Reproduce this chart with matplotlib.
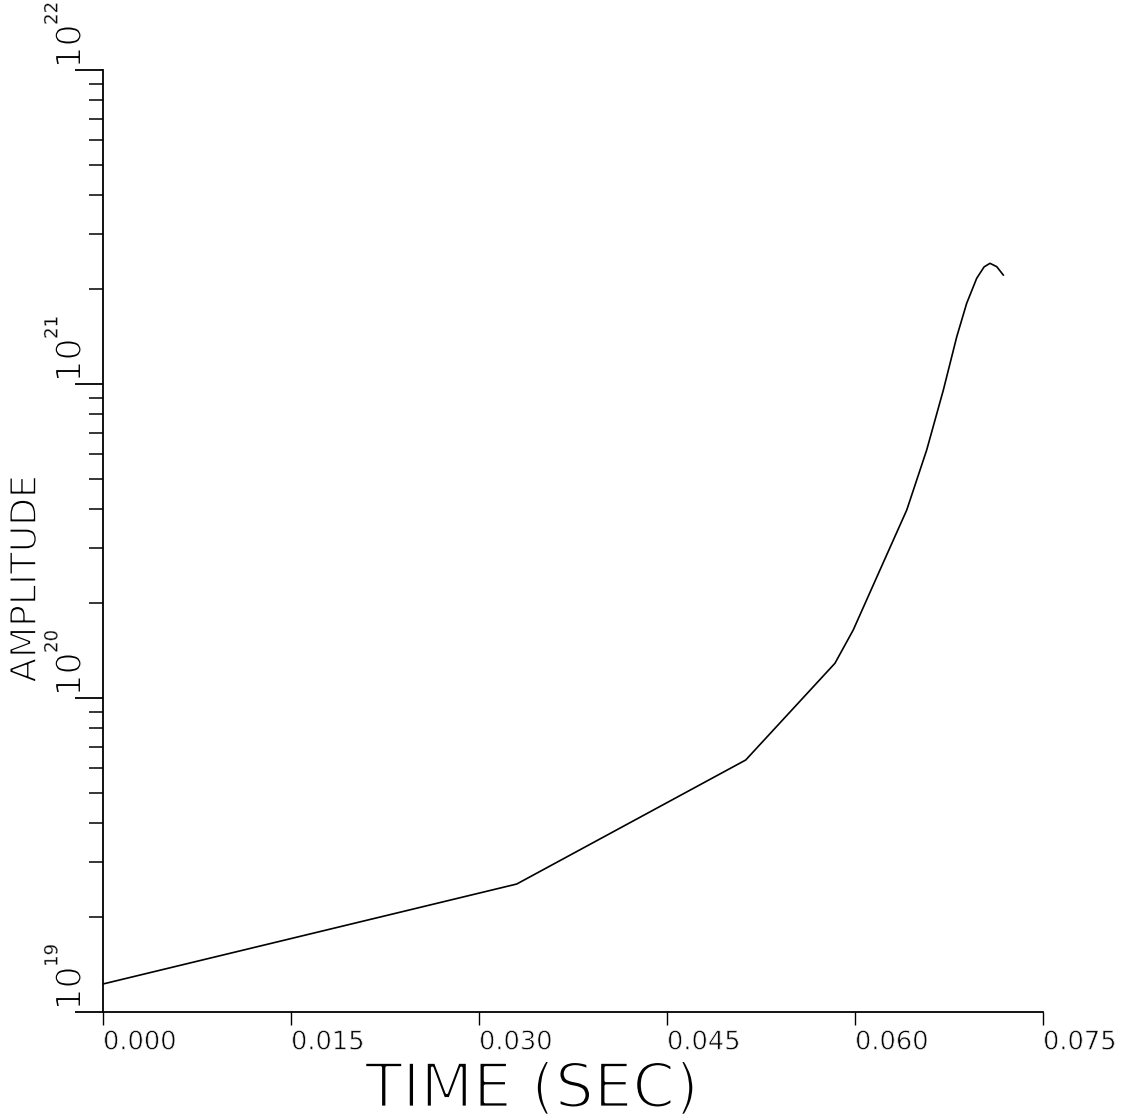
import matplotlib
matplotlib.use("Agg")
import matplotlib.pyplot as plt
import matplotlib.patheffects as pe

# curve (time in s, amplitude)
time_s = [0.0, 0.03301, 0.05128, 0.05840, 0.05986, 0.06199, 0.06413, 0.06572,
          0.06705, 0.06812, 0.06891, 0.06971, 0.07030, 0.07077, 0.07131, 0.07183]
amplitude = [1.228e19, 2.556e19, 6.346e19, 1.290e20, 1.647e20, 2.556e20, 3.970e20,
             6.164e20, 9.57e20, 1.415e21, 1.807e21, 2.171e21, 2.360e21, 2.423e21,
             2.364e21, 2.224e21]

x_ticks = [0.0, 0.015, 0.030, 0.045, 0.060, 0.075]
x_ticklabels = ["0.000", "0.015", "0.030", "0.045", "0.060", "0.075"]
decades = [19, 20, 21, 22]

FONT = "DejaVu Sans"


def thin(lw):
    # paint a white outline over the glyph to get a plotter-like thin stroke
    return [pe.Normal(), pe.Stroke(linewidth=lw, foreground="white")]


fig = plt.figure(figsize=(11.31, 11.19), dpi=100)
ax = fig.add_axes([103 / 1131, 1 - 1012 / 1119, 940 / 1131, (1012 - 70) / 1119])

ax.plot(time_s, amplitude, color="black", lw=1.2)
ax.set_yscale("log")
ax.set_xlim(0, 0.075)
ax.set_ylim(1e19, 1e22)

for s in ("top", "right"):
    ax.spines[s].set_visible(False)
for s in ("left", "bottom"):
    ax.spines[s].set_linewidth(1.3)

ax.set_xticks(x_ticks)
ax.set_xticklabels(x_ticklabels, ha="left", fontsize=18.5, family=FONT)
for lab in ax.get_xticklabels():
    lab.set_path_effects(thin(0.6))
ax.tick_params(axis="x", direction="out", length=9.5, width=1.0, pad=3)
ax.tick_params(axis="y", which="major", direction="out", length=20, width=1.3)
ax.tick_params(axis="y", which="minor", direction="out", length=10, width=1.1)
ax.yaxis.set_tick_params(which="both", labelleft=False)

# rotated decade labels: "10" plus a small exponent
for d in decades:
    ax.annotate("10", xy=(0, 10.0 ** d), xycoords=("axes fraction", "data"),
                xytext=(-11, 1), textcoords="offset points", rotation=90,
                ha="right", va="bottom", fontsize=25, family=FONT,
                annotation_clip=False, path_effects=thin(1.1))
    ax.annotate(str(d), xy=(0, 10.0 ** d), xycoords=("axes fraction", "data"),
                xytext=(-30, 32.5), textcoords="offset points", rotation=90,
                ha="right", va="bottom", fontsize=13, family=FONT,
                annotation_clip=False, path_effects=thin(0.3))

fig.text(532 / 1131, 1 - 1107 / 1119, "TIME (SEC)", ha="center", va="baseline",
         fontsize=44, family=FONT, path_effects=thin(2.0))
fig.text(26 / 1131, 1 - 579 / 1119, "AMPLITUDE", ha="center", va="center",
         rotation=90, fontsize=26, family=FONT, path_effects=thin(1.2))

fig.savefig("out.png", dpi=100)
